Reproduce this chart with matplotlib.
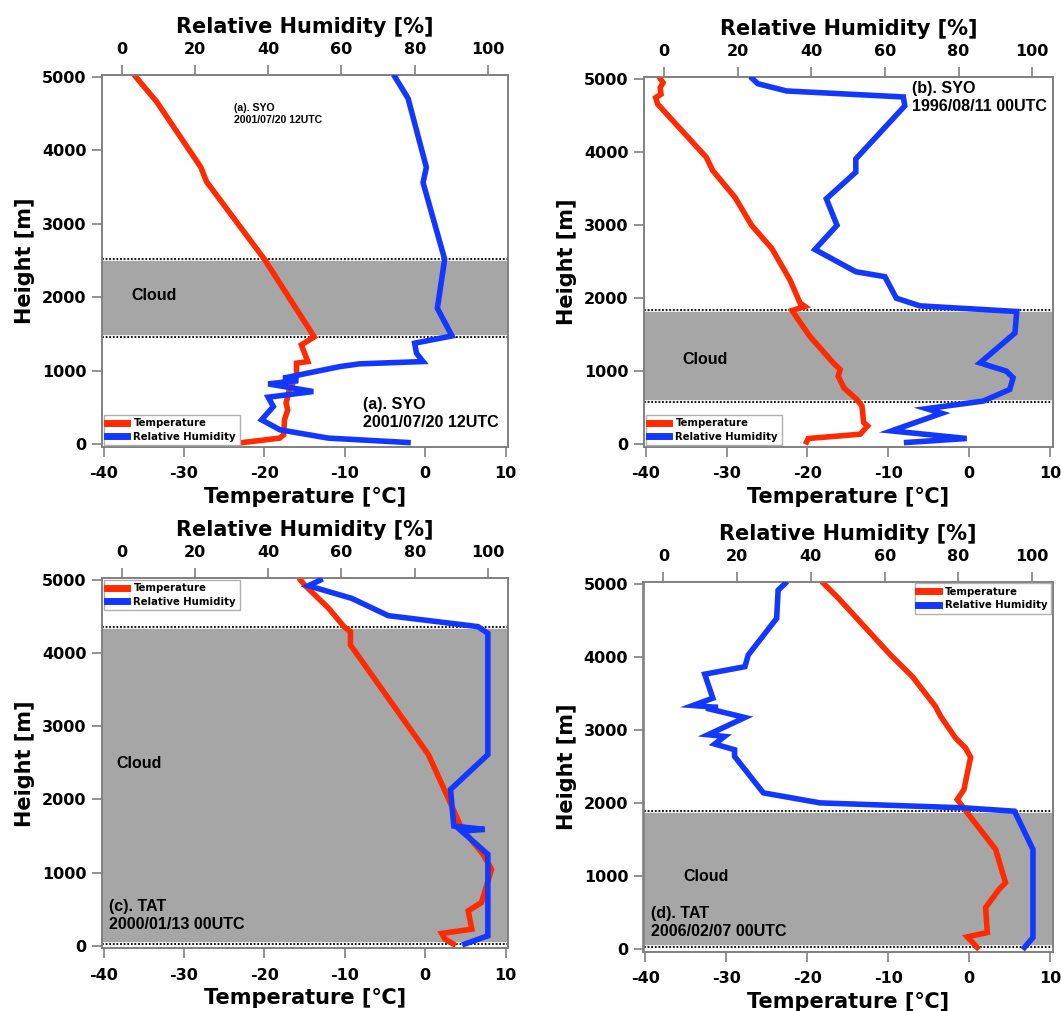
import matplotlib
matplotlib.use("Agg")
import matplotlib.pyplot as plt
from matplotlib.lines import Line2D

plt.rcParams["axes.unicode_minus"] = False

# ---------------- data ----------------
# Panel (a) SYO 2001/07/20 12UTC
a_temp_h = [5000, 4661, 3768, 3573, 2517, 1460, 1351, 1124, 1102, 920, 739, 558, 467, 331, 127, 82, 22]
a_temp = [-36.0, -33.4, -27.9, -27.2, -20.0, -13.8, -15.4, -14.6, -16.0, -16.0, -16.9, -17.3, -17.1, -17.5, -17.6, -18.1, -22.65]
a_rh_h = [5000, 4707, 3768, 3560, 2517, 1850, 1473, 1374, 1238, 1124, 1093, 1056, 898, 865, 820, 716, 639, 512, 331, 195, 82, 22]
a_rh = [74.6, 78.2, 83.2, 82.3, 88.2, 86.2, 90.2, 80.0, 80.5, 82.3, 65.0, 59.6, 44.1, 48.2, 40.0, 52.3, 40.0, 41.4, 38.2, 43.2, 56.4, 78.2]
a_cloud = (1460, 2520)

# Panel (b) SYO 1996/08/11 00UTC
b_temp_h = [5000, 4943, 4875, 4785, 4739, 4649, 3923, 3741, 3378, 2993, 2676, 2245, 1928, 1882, 1827, 1474, 1111, 1020, 929, 771, 612, 521, 295, 249, 136, 77, 31]
b_temp = [-38.2, -37.85, -38.2, -38.1, -38.76, -38.5, -32.5, -31.7, -28.97, -26.9, -24.4, -22.15, -20.9, -20.3, -21.9, -19.7, -16.8, -15.95, -16.2, -15.5, -13.9, -13.25, -13.05, -12.56, -13.47, -19.9, -20.1]
b_rh_h = [5000, 4929, 4830, 4748, 4626, 3900, 3719, 3356, 2993, 2662, 2358, 2290, 1996, 1891, 1814, 1519, 1111, 998, 907, 748, 589, 485, 422, 181, 77, 23]
b_rh = [24.0, 25.5, 33.3, 65.0, 65.4, 52.1, 52.1, 44.1, 47.0, 41.0, 52.1, 60.0, 63.1, 69.5, 95.8, 95.3, 85.8, 93.0, 94.8, 93.9, 86.7, 71.3, 75.4, 61.8, 82.2, 65.9]
b_cloud = (570, 1830)

# Panel (c) TAT 2000/01/13 00UTC
c_temp_h = [5000, 4923, 4614, 4364, 4296, 4114, 2614, 2114, 1614, 1250, 1046, 591, 477, 227, 168, 91, 23]
c_temp = [-15.5, -14.9, -12.0, -10.1, -9.3, -9.3, 0.4, 2.47, 4.5, 7.2, 8.25, 7.0, 5.35, 5.8, 2.06, 2.47, 3.5]
c_rh_h = [5000, 4923, 4751, 4514, 4364, 4273, 2614, 2137, 1637, 1591, 1568, 1250, 136, 23]
c_rh = [54.2, 51.0, 62.8, 72.8, 97.3, 100.0, 100.0, 89.8, 90.7, 99.1, 92.8, 100.0, 100.0, 93.7]
c_cloud = (30, 4360)

# Panel (d) TAT 2006/02/07 00UTC
d_temp_h = [5000, 4795, 4023, 3727, 3318, 3182, 2887, 2750, 2623, 2182, 2046, 1864, 1364, 909, 818, 568, 227, 168, 23]
d_temp = [-17.95, -16.1, -9.7, -7.0, -4.14, -3.5, -1.67, -0.43, 0.19, -0.64, -1.46, -0.22, 3.28, 4.5, 3.7, 2.04, 2.25, -0.22, 1.0]
d_rh_h = [5000, 4909, 4523, 4023, 3863, 3760, 3432, 3332, 3305, 3295, 3168, 2932, 2909, 2805, 2727, 2636, 2546, 2137, 2000, 1932, 1886, 1364, 159, 23]
d_rh = [33.0, 31.1, 30.7, 23.0, 22.1, 11.2, 13.4, 8.0, 14.8, 11.6, 22.1, 12.1, 16.6, 13.9, 19.3, 19.3, 20.7, 27.1, 42.5, 81.6, 95.2, 100.2, 100.2, 97.9]
d_cloud = (30, 1890)

temp_ticks = [-40, -30, -20, -10, 0, 10]
rh_ticks = [0, 20, 40, 60, 80, 100]
height_ticks = [0, 1000, 2000, 3000, 4000, 5000]

# ---------------- style ----------------
RED = "#ff2a00"
BLUE = "#1238ff"
GRAY = "#a6a6a6"
SPINE = "#808080"
W, H = 1061, 1011

fig = plt.figure(figsize=(W / 100, H / 100), dpi=100)


def px_axes(left, top, right, bottom):
    return fig.add_axes([left / W, 1 - bottom / H, (right - left) / W, (bottom - top) / H])


panels = [
    dict(box=(102, 75, 508, 446.7), th=a_temp_h, t=a_temp, rh_h=a_rh_h, rh=a_rh, cloud=a_cloud,
         cloud_txt=(-36.5, 2018), legend="lower left",
         notes=[((-23.8, 4650), "(a). SYO\n2001/07/20 12UTC", 7.6),
                ((-7.7, 640), "(a). SYO\n2001/07/20 12UTC", 11.6)]),
    dict(box=(644, 76.7, 1052.5, 446.7), th=b_temp_h, t=b_temp, rh_h=b_rh_h, rh=b_rh, cloud=b_cloud,
         cloud_txt=(-35.4, 1156), legend="lower left",
         notes=[((-7.1, 4965), "(b). SYO\n1996/08/11 00UTC", 11.6)]),
    dict(box=(102, 578.3, 508, 948.3), th=c_temp_h, t=c_temp, rh_h=c_rh_h, rh=c_rh, cloud=c_cloud,
         cloud_txt=(-38.4, 2487), legend="upper left",
         notes=[((-39.3, 640), "(c). TAT\n2000/01/13 00UTC", 11.6)]),
    dict(box=(643.5, 581.7, 1052.5, 951.7), th=d_temp_h, t=d_temp, rh_h=d_rh_h, rh=d_rh, cloud=d_cloud,
         cloud_txt=(-35.3, 1000), legend="upper right",
         notes=[((-39.3, 595), "(d). TAT\n2006/02/07 00UTC", 11.6)]),
]

LW = 4.0
for p in panels:
    ax = px_axes(*p["box"])
    ax.set_xlim(-40.2, 10.3)
    ax.set_ylim(-35, 5025)
    ax.set_xticks(temp_ticks)
    ax.set_yticks(height_ticks)
    lo, hi = p["cloud"]
    ax.axhspan(lo, hi, color=GRAY, lw=0, zorder=0)
    for yv in (lo, hi):
        ax.axhline(yv, color="white", lw=2.6, zorder=1)
        ax.axhline(yv, color="black", lw=1.3, ls=(0, (1, 1)), zorder=1.1)
    ax.text(p["cloud_txt"][0], p["cloud_txt"][1], "Cloud", fontsize=11.5, fontweight="bold",
            family="Liberation Sans", ha="left", va="center", zorder=2)
    for (xy, s, fs) in p["notes"]:
        ax.text(xy[0], xy[1], s, fontsize=fs, fontweight="bold", family="Liberation Sans",
                ha="left", va="top", linespacing=1.25, zorder=2)
    ax.plot(p["t"], p["th"], color=RED, lw=LW, solid_joinstyle="miter", zorder=3)

    ax2 = ax.twiny()
    ax2.set_xlim(-5.4, 105.5)
    ax2.set_xticks(rh_ticks)
    ax2.plot(p["rh"], p["rh_h"], color=BLUE, lw=LW, solid_joinstyle="miter", zorder=3)

    for a in (ax, ax2):
        for sp in a.spines.values():
            sp.set_color(SPINE)
            sp.set_linewidth(1.2)
    ax.tick_params(axis="both", direction="out", length=7, width=1.2, color=SPINE,
                   labelsize=11.5, pad=6)
    ax.tick_params(axis="x", pad=7)
    ax.tick_params(axis="y", pad=4)
    ax2.tick_params(axis="x", direction="out", length=7, width=1.2, color=SPINE,
                    labelsize=11.5, pad=6)
    for lab in ax.get_xticklabels() + ax.get_yticklabels() + ax2.get_xticklabels():
        lab.set_fontweight("bold")

    ax.set_xlabel("Temperature [℃]", fontsize=15, fontweight="bold", labelpad=4)
    ax.set_ylabel("Height [m]", fontsize=15, fontweight="bold", labelpad=5)
    ax2.set_xlabel("Relative Humidity [%]", fontsize=15, fontweight="bold", labelpad=6.5)

    handles = [Line2D([], [], color=RED, lw=5), Line2D([], [], color=BLUE, lw=5)]
    leg = ax2.legend(handles, ["Temperature", "Relative Humidity"], loc=p["legend"],
                     prop=dict(size=7.3, weight="bold"), frameon=True, fancybox=False,
                     edgecolor="#b0b0b0", framealpha=1, borderaxespad=0.15,
                     handlelength=2.0, handletextpad=0.6, borderpad=0.35, labelspacing=0.35)
    leg.get_frame().set_linewidth(1.0)
    leg.set_zorder(10)

fig.savefig("out.png", dpi=100)
